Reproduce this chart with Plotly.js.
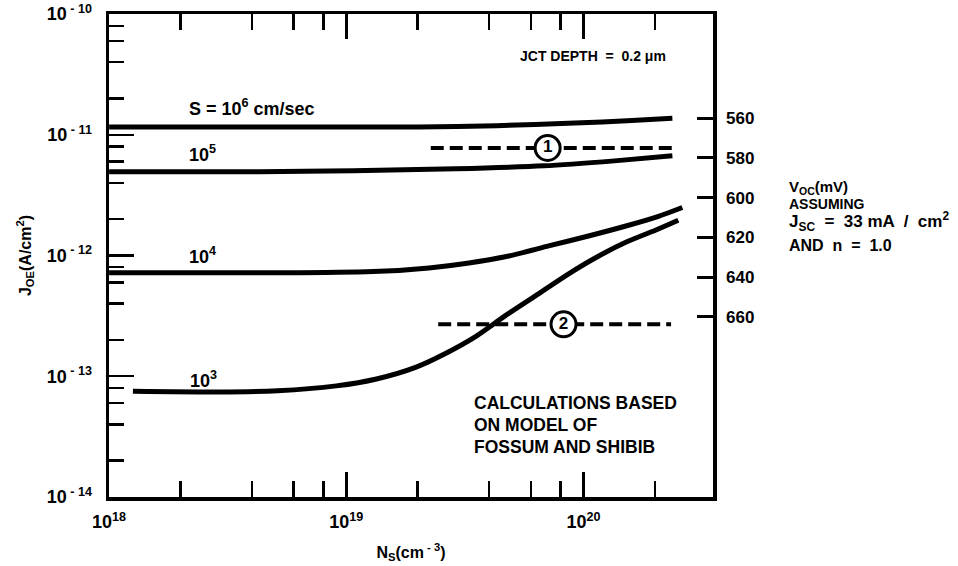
<!DOCTYPE html>
<html>
<head>
<meta charset="utf-8">
<script src="https://cdn.plot.ly/plotly-3.0.1.min.js"></script>
<style>
  html, body { margin: 0; padding: 0; background: #fff; }
  #chart { width: 958px; height: 566px; }
</style>
</head>
<body>
<div id="chart"></div>
<script>
// Emitter saturation current J_OE (A/cm^2) versus surface doping N_S (cm^-3)
// for several surface recombination velocities S (cm/sec), junction depth 0.2 um.

const nsS6 = [1.0e18, 1.0e19, 2.0e19, 4.3e19, 9.2e19, 1.6e20, 2.37e20];
const joS6 = [1.16e-11, 1.16e-11, 1.16e-11, 1.19e-11, 1.25e-11, 1.31e-11, 1.37e-11];

const nsS5 = [1.0e18, 4.3e18, 1.07e19, 2.9e19, 6.8e19, 1.35e20, 2.37e20];
const joS5 = [4.94e-12, 4.94e-12, 5.04e-12, 5.23e-12, 5.53e-12, 6.08e-12, 6.69e-12];

const nsS4 = [1.0e18, 6.35e18, 1.38e19, 2.23e19, 3.29e19, 4.84e19, 7.13e19, 1.05e20, 1.55e20, 2.07e20, 2.61e20];
const joS4 = [7.18e-13, 7.18e-13, 7.39e-13, 7.89e-13, 8.68e-13, 9.91e-13, 1.2e-12, 1.45e-12, 1.78e-12, 2.11e-12, 2.5e-12];

const nsS3 = [1.26e18, 2.87e18, 5.13e18, 9.08e18, 1.34e19, 1.97e19, 2.63e19, 3.52e19, 4.7e19, 6.29e19, 8.4e19, 1.12e20, 1.5e20, 2.01e20, 2.51e20];
const joS3 = [7.5e-14, 7.4e-14, 7.57e-14, 8.32e-14, 9.49e-14, 1.19e-13, 1.55e-13, 2.14e-13, 3.19e-13, 4.65e-13, 6.79e-13, 9.53e-13, 1.28e-12, 1.62e-12, 1.96e-12];

// Reference levels (1) and (2)
const ref1Ns = [2.27e19, 2.37e20];
const ref1Jo = 7.78e-12;
const ref1MarkNs = 7.06e19;
const ref2Ns = [2.44e19, 2.34e20];
const ref2Jo = 2.69e-13;
const ref2MarkNs = 8.24e19;

// Axis ticks
const xTickVals = [1e18, 1e19, 1e20];
const xTickText = ['10<sup>18</sup>', '10<sup>19</sup>', '10<sup>20</sup>'];
const yTickVals = [1e-14, 1e-13, 1e-12, 1e-11, 1e-10];
const yTickText = ['10<sup> - 14</sup>', '10<sup> - 13</sup>', '10<sup> - 12</sup>', '10<sup> - 11</sup>', '10<sup> - 10</sup>'];
const minorMantissa = [2, 4, 6, 8];
const vocTicks = [560, 580, 600, 620, 640, 660];   // open-circuit voltage, mV

const FONT = 'Liberation Sans, Arial, Helvetica, sans-serif';
const BLACK = '#000';

function minorTicks(lo, hi) {
  const out = [];
  for (let e = lo; e <= hi; e++) minorMantissa.forEach(m => out.push(m * Math.pow(10, e)));
  return out;
}

function curve(x, y) {
  return {
    x: x, y: y, type: 'scatter', mode: 'lines',
    line: { color: BLACK, width: 5, shape: 'spline', smoothing: 0.7 },
    hoverinfo: 'skip', showlegend: false
  };
}

function refLine(x, level) {
  return {
    x: x, y: x.map(() => level), type: 'scatter', mode: 'lines',
    line: { color: BLACK, width: 4, dash: '13px,6px' },
    hoverinfo: 'skip', showlegend: false
  };
}

function refMark(x, level, label) {
  return {
    x: [x], y: [level], type: 'scatter', mode: 'markers+text',
    text: [label], textposition: 'middle center',
    textfont: { family: FONT, size: 17, color: BLACK, weight: 700 },
    marker: { symbol: 'circle', size: 25, color: '#fff', line: { color: BLACK, width: 3 } },
    hoverinfo: 'skip', showlegend: false
  };
}

const traces = [
  curve(nsS6, joS6),
  curve(nsS5, joS5),
  curve(nsS4, joS4),
  curve(nsS3, joS3),
  refLine(ref1Ns, ref1Jo),
  refLine(ref2Ns, ref2Jo),
  refMark(ref1MarkNs, ref1Jo, '1'),
  refMark(ref2MarkNs, ref2Jo, '2'),
  // carrier for the right-hand V_OC scale
  { x: [null], y: [null], yaxis: 'y2', type: 'scatter', mode: 'lines', hoverinfo: 'skip', showlegend: false }
];

const boldText = (size) => ({ family: FONT, size: size, color: BLACK, weight: 700 });

function note(text, x, y, size, xanchor) {
  return {
    text: text, xref: 'paper', yref: 'paper', x: x, y: y,
    xanchor: xanchor || 'left', yanchor: 'middle', showarrow: false,
    font: boldText(size)
  };
}

const layout = {
  width: 958, height: 566,
  margin: { l: 109, r: 245, t: 14, b: 69 },
  paper_bgcolor: '#fff', plot_bgcolor: '#fff',
  showlegend: false,
  font: { family: FONT, color: BLACK },
  xaxis: {
    type: 'log', range: [17.9995, 20.546],
    tickmode: 'array', tickvals: xTickVals, ticktext: xTickText,
    ticks: 'inside', ticklen: 25, tickwidth: 2.5, tickcolor: BLACK,
    minor: { tickmode: 'array', tickvals: minorTicks(18, 20), ticks: 'inside', ticklen: 16, tickwidth: 2.5, tickcolor: BLACK, showgrid: false },
    showline: true, linewidth: 3.5, linecolor: BLACK, mirror: 'ticks',
    showgrid: false, zeroline: false,
    tickfont: boldText(18), ticklabelstandoff: 6, ticklabeloverflow: 'allow',
    title: { text: 'N<sub>S</sub>(cm<sup> - 3</sup>)', font: boldText(16), standoff: 16 },
    automargin: false
  },
  yaxis: {
    type: 'log', range: [-14.0005, -9.9995],
    tickmode: 'array', tickvals: yTickVals, ticktext: yTickText,
    ticks: 'inside', ticklen: 25, tickwidth: 2.5, tickcolor: BLACK,
    minor: { tickmode: 'array', tickvals: minorTicks(-14, -11), ticks: 'inside', ticklen: 15, tickwidth: 2.5, tickcolor: BLACK, showgrid: false },
    showline: true, linewidth: 3.5, linecolor: BLACK, mirror: true,
    showgrid: false, zeroline: false,
    tickfont: boldText(18), ticklabelstandoff: 10, ticklabeloverflow: 'allow',
    title: { text: 'J<sub>OE</sub>(A/cm<sup>2</sup>)', font: boldText(16), standoff: 12 },
    automargin: false
  },
  yaxis2: {
    type: 'linear', overlaying: 'y', side: 'right', anchor: 'x',
    range: [750.5, 507.7],
    tickmode: 'array', tickvals: vocTicks, ticktext: vocTicks.map(String),
    ticks: 'inside', ticklen: 16, tickwidth: 3, tickcolor: BLACK,
    showline: false, showgrid: false, zeroline: false,
    tickfont: boldText(17), ticklabelstandoff: 12,
    automargin: false
  },
  annotations: [
    note('JCT DEPTH  =  0.2 \u03bcm', 0.9255, 0.913, 14, 'right'),
    note('S = 10<sup>6</sup> cm/sec', 0.129, 0.8054, 18),
    note('10<sup>5</sup>', 0.129, 0.7122, 18),
    note('10<sup>4</sup>', 0.129, 0.499, 18),
    note('10<sup>3</sup>', 0.1308, 0.2443, 18),
    note('CALCULATIONS BASED', 0.601, 0.1946, 17.5),
    note('ON MODEL OF', 0.601, 0.1491, 17.5),
    note('FOSSUM AND SHIBIB', 0.601, 0.1035, 17.5),
    note('V<sub>OC</sub>(mV)', 1.1225, 0.6398, 15),
    note('ASSUMING', 1.1225, 0.6067, 14),
    note('J<sub>SC</sub>  =  33 mA  /  cm<sup>2</sup>', 1.1225, 0.5714, 17),
    note('AND  n  =  1.0', 1.1225, 0.5217, 16)
  ]
};

Plotly.newPlot('chart', traces, layout, { displayModeBar: false, staticPlot: true });
</script>
</body>
</html>
